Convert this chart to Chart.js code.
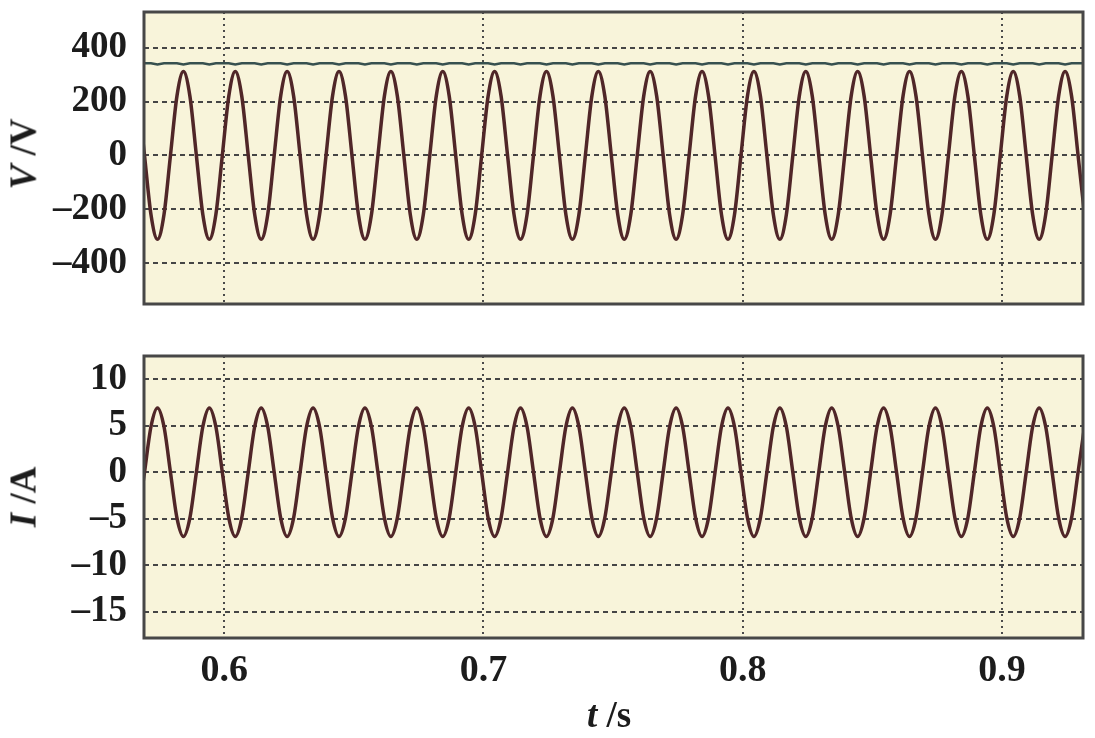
<!DOCTYPE html>
<html>
<head>
<meta charset="utf-8">
<script src="https://cdn.jsdelivr.net/npm/chart.js@4"></script>
<style>
  body { margin: 0; background: #fff; width: 1095px; height: 738px; position: relative; overflow: hidden; }
  canvas { position: absolute; left: 0; }
  .ttl { position: absolute; font: bold 37px "Liberation Serif", serif; color: #1c1c1c; white-space: nowrap;
         transform: translate(-50%, -50%); }
  .rot { transform: translate(-50%, -50%) rotate(-90deg); }
</style>
</head>
<body>
<canvas id="vChart" width="1095" height="330" style="top:0"></canvas>
<canvas id="iChart" width="1095" height="408" style="top:330px"></canvas>
<div class="ttl rot" style="left:23px; top:154px"><i>V</i> /V</div>
<div class="ttl rot" style="left:23px; top:497px"><i>I</i> /A</div>
<div class="ttl" style="left:609px; top:714px"><i>t</i> /s</div>
<script>
// sample times (s)
const times = [
  0.5668,0.5693,0.5718,0.5743,0.5768,0.5793,0.5818,0.5843,
  0.5868,0.5893,0.5918,0.5943,0.5968,0.5993,0.6018,0.6043,
  0.6068,0.6093,0.6118,0.6143,0.6168,0.6193,0.6218,0.6243,
  0.6268,0.6293,0.6318,0.6343,0.6368,0.6393,0.6418,0.6443,
  0.6468,0.6493,0.6518,0.6543,0.6568,0.6593,0.6618,0.6643,
  0.6668,0.6693,0.6718,0.6743,0.6768,0.6793,0.6818,0.6843,
  0.6868,0.6893,0.6918,0.6943,0.6968,0.6993,0.7018,0.7043,
  0.7068,0.7093,0.7118,0.7143,0.7168,0.7193,0.7218,0.7243,
  0.7268,0.7293,0.7318,0.7343,0.7368,0.7393,0.7418,0.7443,
  0.7468,0.7493,0.7518,0.7543,0.7568,0.7593,0.7618,0.7643,
  0.7668,0.7693,0.7718,0.7743,0.7768,0.7793,0.7818,0.7843,
  0.7868,0.7893,0.7918,0.7943,0.7968,0.7993,0.8018,0.8043,
  0.8068,0.8093,0.8118,0.8143,0.8168,0.8193,0.8218,0.8243,
  0.8268,0.8293,0.8318,0.8343,0.8368,0.8393,0.8418,0.8443,
  0.8468,0.8493,0.8518,0.8543,0.8568,0.8593,0.8618,0.8643,
  0.8668,0.8693,0.8718,0.8743,0.8768,0.8793,0.8818,0.8843,
  0.8868,0.8893,0.8918,0.8943,0.8968,0.8993,0.9018,0.9043,
  0.9068,0.9093,0.9118,0.9143,0.9168,0.9193,0.9218,0.9243,
  0.9268,0.9293,0.9318
];

// grid voltage (V)
const voltage = [
  220,0,-220,-311,-220,0,220,311,
  220,0,-220,-311,-220,0,220,311,
  220,0,-220,-311,-220,0,220,311,
  220,0,-220,-311,-220,0,220,311,
  220,0,-220,-311,-220,0,220,311,
  220,0,-220,-311,-220,0,220,311,
  220,0,-220,-311,-220,0,220,311,
  220,0,-220,-311,-220,0,220,311,
  220,0,-220,-311,-220,0,220,311,
  220,0,-220,-311,-220,0,220,311,
  220,0,-220,-311,-220,0,220,311,
  220,0,-220,-311,-220,0,220,311,
  220,0,-220,-311,-220,0,220,311,
  220,0,-220,-311,-220,0,220,311,
  220,0,-220,-311,-220,0,220,311,
  220,0,-220,-311,-220,0,220,311,
  220,0,-220,-311,-220,0,220,311,
  220,0,-220,-311,-220,0,220,311,
  220,0,-220
];

// dc bus voltage (V)
const dcBus = [
  342,342,342,337,342,342,342,337,
  342,342,342,337,342,342,342,337,
  342,342,342,337,342,342,342,337,
  342,342,342,337,342,342,342,337,
  342,342,342,337,342,342,342,337,
  342,342,342,337,342,342,342,337,
  342,342,342,337,342,342,342,337,
  342,342,342,337,342,342,342,337,
  342,342,342,337,342,342,342,337,
  342,342,342,337,342,342,342,337,
  342,342,342,337,342,342,342,337,
  342,342,342,337,342,342,342,337,
  342,342,342,337,342,342,342,337,
  342,342,342,337,342,342,342,337,
  342,342,342,337,342,342,342,337,
  342,342,342,337,342,342,342,337,
  342,342,342,337,342,342,342,337,
  342,342,342,337,342,342,342,337,
  342,342,342
];

// grid current (A)
const current = [
  -4.9,0,4.9,6.9,4.9,0,-4.9,-6.9,
  -4.9,0,4.9,6.9,4.9,0,-4.9,-6.9,
  -4.9,0,4.9,6.9,4.9,0,-4.9,-6.9,
  -4.9,0,4.9,6.9,4.9,0,-4.9,-6.9,
  -4.9,0,4.9,6.9,4.9,0,-4.9,-6.9,
  -4.9,0,4.9,6.9,4.9,0,-4.9,-6.9,
  -4.9,0,4.9,6.9,4.9,0,-4.9,-6.9,
  -4.9,0,4.9,6.9,4.9,0,-4.9,-6.9,
  -4.9,0,4.9,6.9,4.9,0,-4.9,-6.9,
  -4.9,0,4.9,6.9,4.9,0,-4.9,-6.9,
  -4.9,0,4.9,6.9,4.9,0,-4.9,-6.9,
  -4.9,0,4.9,6.9,4.9,0,-4.9,-6.9,
  -4.9,0,4.9,6.9,4.9,0,-4.9,-6.9,
  -4.9,0,4.9,6.9,4.9,0,-4.9,-6.9,
  -4.9,0,4.9,6.9,4.9,0,-4.9,-6.9,
  -4.9,0,4.9,6.9,4.9,0,-4.9,-6.9,
  -4.9,0,4.9,6.9,4.9,0,-4.9,-6.9,
  -4.9,0,4.9,6.9,4.9,0,-4.9,-6.9,
  -4.9,0,4.9
];

const timeTicks = [0.6, 0.7, 0.8, 0.9];
const vTicks = [400, 200, 0, -200, -400];
const iTicks = [10, 5, 0, -5, -10, -15];

const pts = (ys) => times.map((t, i) => ({x: t, y: ys[i]}));
const dash = (v) => v < 0 ? '\u2013' + Math.abs(v) : String(v);

// cream plot background + dark frame
const frame = {
  id: 'frame',
  beforeDraw(chart) {
    let a = chart.chartArea, ctx = chart.ctx;
    ctx.save();
    ctx.fillStyle = '#f8f4da';
    ctx.fillRect(a.left, a.top, a.right - a.left, a.bottom - a.top);
    ctx.restore();
  },
  afterDraw(chart) {
    let a = chart.chartArea, ctx = chart.ctx;
    ctx.save();
    ctx.strokeStyle = '#474747';
    ctx.lineWidth = 3;
    ctx.strokeRect(a.left, a.top, a.right - a.left, a.bottom - a.top);
    ctx.restore();
  }
};

function noPad(s) {
  s.paddingTop = 0; s.paddingBottom = 0; s.paddingLeft = 0; s.paddingRight = 0;
}

function xAxis(showLabels, h) {
  return {
    type: 'linear', min: 0.5691, max: 0.9312,
    afterBuildTicks: (s) => { s.ticks = timeTicks.map(v => ({value: v})); },
    afterFit: (s) => { s.height = h; noPad(s); },
    grid: { color: '#4a4a4a', lineWidth: 2, drawTicks: false },
    border: { display: false, dash: [2, 4] },
    ticks: {
      display: showLabels, padding: 10, color: '#1c1c1c',
      font: { family: 'Liberation Serif', size: 38, weight: 'bold' },
      callback: (v) => v.toFixed(1)
    }
  };
}

function yAxis(lo, hi, tickVals) {
  return {
    min: lo, max: hi,
    afterBuildTicks: (s) => { s.ticks = tickVals.map(v => ({value: v})); },
    afterFit: (s) => { s.width = 144; noPad(s); },
    grid: { color: '#454545', lineWidth: 2, drawTicks: false },
    border: { display: false, dash: [5, 4] },
    ticks: {
      padding: 17, color: '#1c1c1c',
      font: { family: 'Liberation Serif', size: 37, weight: 'bold' },
      callback: dash
    }
  };
}

const common = {
  responsive: false, animation: false, devicePixelRatio: 1,
  plugins: { legend: { display: false }, tooltip: { enabled: false } },
  elements: { point: { radius: 0 } }
};

const vChart = new Chart(document.getElementById('vChart'), {
  type: 'line',
  data: {
    datasets: [
      { data: pts(dcBus), borderColor: '#37504f', borderWidth: 2.5, tension: 0 },
      { data: pts(voltage), borderColor: '#502628', borderWidth: 3.5, cubicInterpolationMode: 'monotone' }
    ]
  },
  options: Object.assign({}, common, {
    layout: { padding: { top: 12, right: 12, left: 0, bottom: 0 } },
    scales: { x: xAxis(false, 26), y: yAxis(-551, 532, vTicks) }
  }),
  plugins: [frame]
});

const iChart = new Chart(document.getElementById('iChart'), {
  type: 'line',
  data: {
    datasets: [
      { data: pts(current), borderColor: '#502628', borderWidth: 3.5, cubicInterpolationMode: 'monotone' }
    ]
  },
  options: Object.assign({}, common, {
    layout: { padding: { top: 26, right: 12, left: 0, bottom: 0 } },
    scales: { x: xAxis(true, 100), y: yAxis(-17.8, 12.47, iTicks) }
  }),
  plugins: [frame]
});
</script>
</body>
</html>
